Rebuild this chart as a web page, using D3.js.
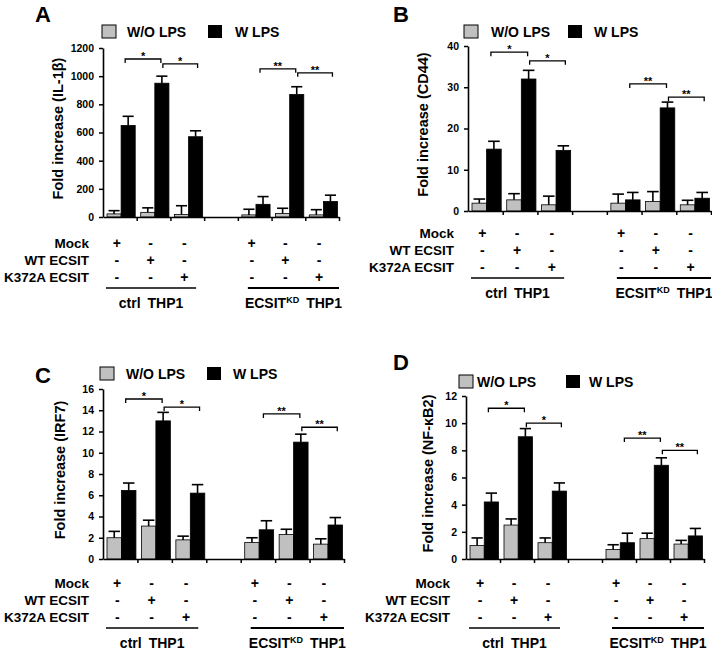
<!DOCTYPE html>
<html>
<head>
<meta charset="utf-8">
<script src="https://cdn.jsdelivr.net/npm/d3@7"></script>
<style>
  body { margin: 0; background: #fff; }
  svg { display: block; font-family: "Liberation Sans", Arial, sans-serif; font-weight: bold; }
</style>
</head>
<body>
<svg id="fig" width="712" height="650"></svg>
<script>
// slots along the x axis (the 4th one is the empty gap)
const slots = ["ctrl-mock", "ctrl-wt", "ctrl-k372a", "gap", "kd-mock", "kd-wt", "kd-k372a"];
const seriesNames = ["W/O LPS", "W LPS"];
const rowLabels = ["Mock", "WT ECSIT", "K372A ECSIT"];
const rowSigns = [
  ["+", "-", "-", "", "+", "-", "-"],
  ["-", "+", "-", "", "-", "+", "-"],
  ["-", "-", "+", "", "-", "-", "+"]
];

// A: IL-1b
const ilTicks = [0, 200, 400, 600, 800, 1000, 1200];
const ilWo = [22, 33, 18, null, 15, 25, 15];
const ilWoErr = [23, 32, 62, null, 40, 37, 37];
const ilW = [650, 950, 570, null, 90, 870, 110];
const ilWErr = [65, 50, 42, null, 55, 55, 45];
const ilBrackets = [[0, 1, 1122, "*"], [1, 2, 1087, "*"], [4, 5, 1052, "**"], [5, 6, 1024, "**"]];

// B: CD44
const cdTicks = [0, 10, 20, 30, 40];
const cdWo = [1.9, 2.7, 1.5, null, 1.9, 2.3, 1.5];
const cdWoErr = [1.0, 1.5, 2.1, null, 2.2, 2.4, 1.1];
const cdW = [15, 32, 14.7, null, 2.7, 25, 3.1];
const cdWErr = [1.9, 2.1, 1.1, null, 1.8, 1.4, 1.4];
const cdBrackets = [[0, 1, 38.5, "*"], [1, 2, 36.4, "*"], [4, 5, 30.8, "**"], [5, 6, 27.6, "**"]];

// C: IRF7
const irfTicks = [0, 2, 4, 6, 8, 10, 12, 14, 16];
const irfWo = [2.0, 3.1, 1.8, null, 1.55, 2.3, 1.4];
const irfWoErr = [0.6, 0.55, 0.35, null, 0.45, 0.5, 0.5];
const irfW = [6.45, 13.0, 6.2, null, 2.75, 11.0, 3.2];
const irfWErr = [0.7, 0.8, 0.8, null, 0.85, 0.75, 0.7];
const irfBrackets = [[0, 1, 15.06, "*"], [1, 2, 14.3, "*"], [4, 5, 13.65, "**"], [5, 6, 12.4, "**"]];

// D: NF-kB2
const nfTicks = [0, 2, 4, 6, 8, 10, 12];
const nfWo = [1.0, 2.5, 1.2, null, 0.7, 1.5, 1.1];
const nfWoErr = [0.55, 0.45, 0.35, null, 0.35, 0.4, 0.27];
const nfW = [4.2, 9.0, 5.0, null, 1.2, 6.9, 1.7];
const nfWErr = [0.65, 0.6, 0.6, null, 0.7, 0.55, 0.55];
const nfBrackets = [[0, 1, 11.1, "*"], [1, 2, 10.0, "*"], [4, 5, 8.9, "**"], [5, 6, 8.0, "**"]];

const panels = [
  { letter: "A", title: "Fold increase (IL-1\u03b2)", ticks: ilTicks, wo: ilWo, woErr: ilWoErr, w: ilW, wErr: ilWErr, brackets: ilBrackets,
    x0: 103, x1: 339, yZero: 217, yTop: 48, lx: 35, ly: 22, legY: 25, legX: [102, 127, 208, 235],
    rowX: 89, rowY: 248, lineY: 288, groupY: 308, titleX: 58 },
  { letter: "B", title: "Fold increase (CD44)", ticks: cdTicks, wo: cdWo, woErr: cdWoErr, w: cdW, wErr: cdWErr, brackets: cdBrackets,
    x0: 468, x1: 711, yZero: 211, yTop: 46, lx: 393, ly: 22, legY: 25, legX: [464, 491, 568, 594],
    rowX: 454, rowY: 238, lineY: 278, groupY: 298, titleX: 423 },
  { letter: "C", title: "Fold increase (IRF7)", ticks: irfTicks, wo: irfWo, woErr: irfWoErr, w: irfW, wErr: irfWErr, brackets: irfBrackets,
    x0: 103, x1: 344, yZero: 559, yTop: 389, lx: 35, ly: 383, legY: 367, legX: [100, 126, 207, 233],
    rowX: 89, rowY: 588, lineY: 628, groupY: 648, titleX: 60 },
  { letter: "D", title: "Fold increase (NF-\u03baB2)", ticks: nfTicks, wo: nfWo, woErr: nfWoErr, w: nfW, wErr: nfWErr, brackets: nfBrackets,
    x0: 466, x1: 704, yZero: 559, yTop: 396, lx: 393, ly: 370, legY: 375, legX: [459, 477, 566, 589],
    rowX: 450, rowY: 588, lineY: 628, groupY: 648, titleX: 428 }
];

const svg = d3.select("#fig");
const GRAY = "#c0c0c0";

panels.forEach(drawPanel);

function drawPanel(p) {
  const g = svg.append("g");
  const x = d3.scaleBand().domain(slots).range([p.x0, p.x1]);
  const bw = x.bandwidth();
  const xs = d3.scaleBand().domain(seriesNames).range([4, bw - 1.5]);
  const y = d3.scaleLinear().domain([0, d3.max(p.ticks)]).range([p.yZero, p.yTop]);

  // panel letter
  g.append("text").attr("x", p.lx).attr("y", p.ly)
    .attr("font-size", 22).text(p.letter);

  // legend
  const leg = g.append("g").attr("font-size", 14);
  leg.append("rect").attr("x", p.legX[0]).attr("y", p.legY).attr("width", 14).attr("height", 13)
    .attr("fill", GRAY).attr("stroke", "#000").attr("stroke-width", 1);
  leg.append("text").attr("x", p.legX[1]).attr("y", p.legY + 12).text(seriesNames[0]);
  leg.append("rect").attr("x", p.legX[2]).attr("y", p.legY).attr("width", 14).attr("height", 13)
    .attr("fill", "#000");
  leg.append("text").attr("x", p.legX[3]).attr("y", p.legY + 12).text(seriesNames[1]);

  // bars
  const series = [
    { name: seriesNames[0], vals: p.wo, errs: p.woErr, fill: GRAY },
    { name: seriesNames[1], vals: p.w, errs: p.wErr, fill: "#000" }
  ];
  series.forEach(s => {
    const items = slots.map((k, i) => ({ k, v: s.vals[i], e: s.errs[i] })).filter(d => d.v != null);
    const bx = d => x(d.k) + xs(s.name);
    g.append("g").selectAll("rect").data(items).join("rect")
      .attr("x", bx).attr("y", d => y(d.v))
      .attr("width", xs.bandwidth()).attr("height", d => y(0) - y(d.v))
      .attr("fill", s.fill).attr("stroke", "#000").attr("stroke-width", 0.8);
    const eg = g.append("g").attr("stroke", "#000").attr("stroke-width", 1.6);
    eg.selectAll("line.v").data(items).join("line").attr("class", "v")
      .attr("x1", d => bx(d) + xs.bandwidth() / 2).attr("x2", d => bx(d) + xs.bandwidth() / 2)
      .attr("y1", d => y(d.v)).attr("y2", d => y(d.v + d.e));
    eg.selectAll("line.c").data(items).join("line").attr("class", "c")
      .attr("x1", d => bx(d) + 1.5).attr("x2", d => bx(d) + xs.bandwidth() - 1.5)
      .attr("y1", d => y(d.v + d.e)).attr("y2", d => y(d.v + d.e));
  });

  // y axis
  const ya = g.append("g").attr("transform", `translate(${p.x0},0)`)
    .call(d3.axisLeft(y).tickValues(p.ticks).tickFormat(d3.format("d"))
      .tickSize(4).tickSizeOuter(0).tickPadding(5));
  ya.select(".domain").attr("stroke-width", 1.6);
  ya.selectAll(".tick line").attr("stroke-width", 1.5);
  ya.selectAll(".tick text").attr("font-size", 10.5).attr("font-family", null).attr("fill", "#000");

  // x axis, ticks at slot boundaries
  const xl = d3.scaleLinear().domain([0, slots.length]).range([p.x0, p.x1]);
  const xa = g.append("g").attr("transform", `translate(0,${p.yZero})`)
    .call(d3.axisBottom(xl).tickValues(d3.range(1, slots.length + 1)).tickSize(4).tickSizeOuter(0).tickFormat(""));
  xa.select(".domain").attr("stroke-width", 1.6);
  xa.selectAll(".tick line").attr("stroke-width", 1.5);

  // y title
  g.append("text")
    .attr("transform", `translate(${p.titleX},${(p.yZero + p.yTop) / 2 - 4}) rotate(-90)`)
    .attr("text-anchor", "middle").attr("dominant-baseline", "central")
    .attr("font-size", 14.5).text(p.title);

  // significance brackets
  const cx = i => x(slots[i]) + xs(seriesNames[1]) + xs.bandwidth() / 2;
  p.brackets.forEach(([a, b, lvl, lab], j) => {
    const x1 = cx(a) + (j % 2 ? 1 : -3), x2 = cx(b) + (j % 2 ? 2 : -1), yy = y(lvl);
    g.append("path").attr("d", `M${x1},${yy + 4}V${yy}H${x2}V${yy + 4}`)
      .attr("fill", "none").attr("stroke", "#000").attr("stroke-width", 1.3);
    g.append("text").attr("x", (x1 + x2) / 2).attr("y", yy + 1)
      .attr("text-anchor", "middle").attr("font-size", 11).text(lab);
  });

  // condition rows
  const rows = g.append("g").attr("font-size", 13.5);
  rowLabels.forEach((lab, r) => {
    const ry = p.rowY + r * 17;
    rows.append("text").attr("x", p.rowX).attr("y", ry).attr("text-anchor", "end").text(lab);
    rows.selectAll(null).data(slots.map((k, i) => ({ k, s: rowSigns[r][i] })).filter(d => d.s))
      .join("text")
      .attr("x", d => x(d.k) + bw / 2 - 3).attr("y", ry)
      .attr("text-anchor", "middle").attr("font-size", 14).text(d => d.s);
  });

  // group underlines and labels
  const ctrlA = x(slots[0]) + 3, ctrlB = x(slots[2]) + bw - 8;
  const kdA = x(slots[4]) + 10, kdB = x(slots[6]) + bw;
  g.append("line").attr("x1", ctrlA).attr("x2", ctrlB).attr("y1", p.lineY).attr("y2", p.lineY)
    .attr("stroke", "#000").attr("stroke-width", 1.5);
  g.append("line").attr("x1", kdA).attr("x2", kdB).attr("y1", p.lineY).attr("y2", p.lineY)
    .attr("stroke", "#000").attr("stroke-width", 1.8);

  const t1 = g.append("text").attr("x", (ctrlA + ctrlB) / 2).attr("y", p.groupY)
    .attr("text-anchor", "middle").attr("font-size", 14);
  t1.append("tspan").text("ctrl");
  t1.append("tspan").attr("dx", 7).text("THP1");

  const t2 = g.append("text").attr("x", (kdA + kdB) / 2).attr("y", p.groupY)
    .attr("text-anchor", "middle").attr("font-size", 14);
  t2.append("tspan").text("ECSIT");
  t2.append("tspan").attr("font-size", 9).attr("dy", -5).text("KD");
  t2.append("tspan").attr("dy", 5).attr("dx", 7).text("THP1");
}
</script>
</body>
</html>
